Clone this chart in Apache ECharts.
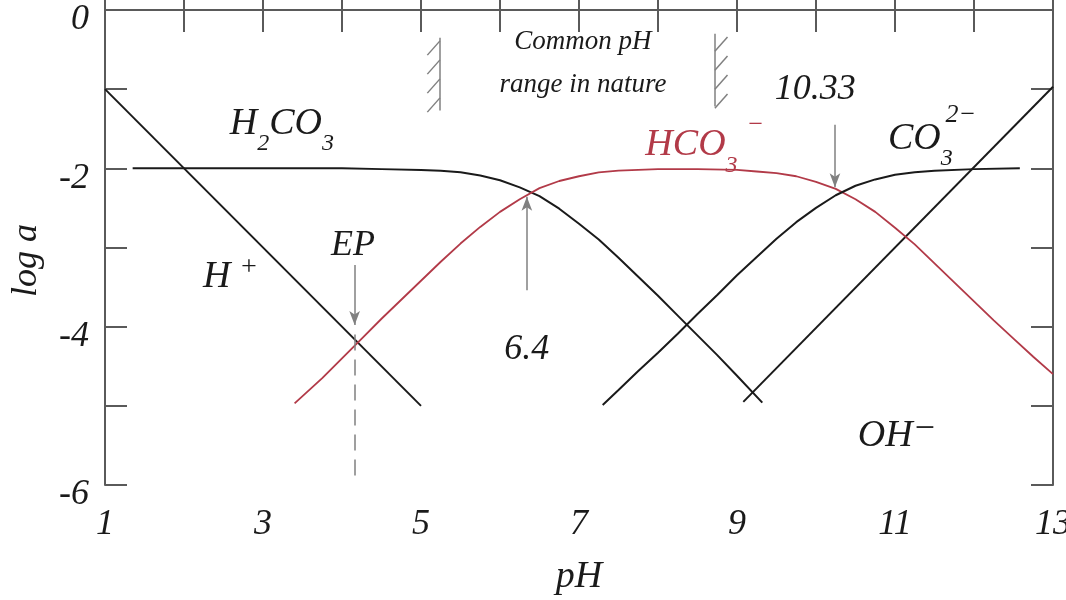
<!DOCTYPE html>
<html><head><meta charset="utf-8">
<script src="https://cdn.jsdelivr.net/npm/echarts@6/dist/echarts.min.js"></script>
<style>html,body{margin:0;padding:0;background:#fff}#c{width:1066px;height:600px}</style>
</head><body><div id="c"></div>
<script>
// ---- data ----
const xTickLabels = [1, 3, 5, 7, 9, 11, 13];
const yTickLabels = [0, -2, -4, -6];
const hPlus = [[1, -1], [5, -5]];
const ohMinus = [[9.08, -4.95], [13, -0.97]];
const h2co3 = [[1.35, -2.0], [2, -2.0], [3, -2.0], [3.5, -2.0], [4, -2.0], [4.5, -2.01], [5, -2.02], [5.25, -2.03], [5.5, -2.05], [5.75, -2.09], [6, -2.15], [6.25, -2.24], [6.5, -2.35], [6.75, -2.51], [7, -2.7], [7.25, -2.9], [7.5, -3.13], [7.75, -3.37], [8, -3.61], [8.25, -3.86], [8.5, -4.11], [8.75, -4.36], [9, -4.62], [9.32, -4.96]];
const hco3 = [[3.4, -4.97], [3.75, -4.65], [4, -4.4], [4.25, -4.15], [4.5, -3.9], [4.75, -3.66], [5, -3.42], [5.25, -3.18], [5.5, -2.95], [5.75, -2.74], [6, -2.55], [6.25, -2.39], [6.5, -2.25], [6.75, -2.16], [7, -2.1], [7.25, -2.05], [7.5, -2.03], [7.75, -2.02], [8, -2.01], [8.5, -2.01], [9, -2.02], [9.25, -2.04], [9.5, -2.06], [9.75, -2.1], [10, -2.17], [10.25, -2.26], [10.5, -2.39], [10.75, -2.55], [11, -2.75], [11.25, -2.96], [11.5, -3.2], [11.75, -3.44], [12, -3.68], [12.25, -3.92], [12.5, -4.15], [12.75, -4.38], [13, -4.6]];
const co3 = [[7.3, -4.99], [7.5, -4.8], [7.75, -4.56], [8, -4.33], [8.25, -4.09], [8.5, -3.84], [8.75, -3.6], [9, -3.35], [9.25, -3.12], [9.5, -2.89], [9.75, -2.68], [10, -2.5], [10.25, -2.34], [10.5, -2.22], [10.75, -2.14], [11, -2.08], [11.25, -2.05], [11.5, -2.03], [12, -2.01], [12.58, -2.0]];
const epPH = 4.16;
const pK1Mark = 6.34;
const pK2Mark = 10.24;
const naturalRange = [5.24, 8.72];

const F = "'Liberation Serif', 'DejaVu Serif', serif";
const INK = '#1a1a1a';
const AX = '#5a5a5a';
const RED = '#b23a48';
const GRAY = '#808080';

function axisCommon(extra) {
  return Object.assign({
    axisLine: { show: true, lineStyle: { color: AX, width: 2 } },
    axisTick: { show: true, inside: true, length: 22, lineStyle: { color: AX, width: 2 } },
    splitLine: { show: false }
  }, extra);
}

// hatch strokes for the "common pH range" markers
const hatchLines = [];
[[naturalRange[0], -0.35, -1.27, -1], [naturalRange[1], -0.3, -1.22, 1]].forEach(([x, yTop, yBot, side]) => {
  hatchLines.push([{ coord: [x, yTop] }, { coord: [x, yBot] }]);
  for (let k = 0; k < 4; k++) {
    const yA = yTop - 0.04 - k * 0.24;
    if (side < 0) hatchLines.push([{ coord: [x - 0.16, yA - 0.18] }, { coord: [x, yA] }]);
    else hatchLines.push([{ coord: [x, yA - 0.18] }, { coord: [x + 0.16, yA] }]);
  }
});

const chart = echarts.init(document.getElementById('c'), null, { renderer: 'canvas' });
const curve = { type: 'line', symbol: 'none', smooth: false, silent: true };
const option = {
  animation: false,
  backgroundColor: '#fff',
  grid: { left: 105, right: 13, top: 10, bottom: 115, containLabel: false, outerBoundsMode: 'none' },
  xAxis: [
    axisCommon({
      type: 'value', min: 1, max: 13, interval: 1, position: 'bottom',
      axisLabel: { show: true, margin: 22, color: INK, fontSize: 36, fontStyle: 'italic', fontFamily: F,
        formatter: v => xTickLabels.indexOf(v) >= 0 ? String(v) : '' },
      name: 'pH', nameLocation: 'middle', nameGap: 73,
      nameTextStyle: { color: INK, fontSize: 38, fontStyle: 'italic', fontFamily: F }
    }),
    axisCommon({ type: 'value', min: 1, max: 13, interval: 1, position: 'top', axisLabel: { show: false } })
  ],
  yAxis: [
    axisCommon({
      type: 'value', min: -6, max: 0, interval: 1, position: 'left',
      axisLabel: { show: true, margin: 16, color: INK, fontSize: 36, fontStyle: 'italic', fontFamily: F,
        verticalAlign: 'top', lineHeight: 20,
        formatter: v => yTickLabels.indexOf(v) >= 0 ? String(v) : '' },
      name: 'log a', nameLocation: 'middle', nameGap: 60, nameRotate: 90,
      nameTextStyle: { color: INK, fontSize: 36, fontStyle: 'italic', fontFamily: F, padding: [0, 26, 0, 0] }
    }),
    axisCommon({ type: 'value', min: -6, max: 0, interval: 1, position: 'right', axisLabel: { show: false } })
  ],
  series: [
    { type: 'line', name: 'H+', data: hPlus, symbol: 'none', silent: true, lineStyle: { color: INK, width: 2 },
      markLine: {
        silent: true, symbol: ['none', 'arrow'], symbolSize: [8, 14], label: { show: false },
        lineStyle: { color: GRAY, width: 1.5, type: 'solid' },
        data: [
          [{ coord: [epPH, -3.22] }, { coord: [epPH, -3.98] }],
          [{ coord: [pK1Mark, -3.54] }, { coord: [pK1Mark, -2.36] }],
          [{ coord: [pK2Mark, -1.45] }, { coord: [pK2Mark, -2.24] }]
        ]
      } },
    { type: 'line', name: 'OH-', data: ohMinus, symbol: 'none', silent: true, lineStyle: { color: INK, width: 2 },
      markLine: {
        silent: true, symbol: ['none', 'none'], label: { show: false },
        lineStyle: { color: GRAY, width: 1.5, type: 'solid' },
        data: hatchLines.concat([[{ coord: [epPH, -4.1], lineStyle: { type: [16, 9] } }, { coord: [epPH, -5.9] }]])
      } },
    Object.assign({ name: 'H2CO3', data: h2co3, lineStyle: { color: INK, width: 2 } }, curve),
    Object.assign({ name: 'HCO3-', data: hco3, lineStyle: { color: RED, width: 1.8 } }, curve),
    Object.assign({ name: 'CO3 2-', data: co3, lineStyle: { color: INK, width: 2 } }, curve)
  ]
};
chart.setOption(option);

// ---- text annotations placed in data coordinates ----
const annotations = [
  { at: [2.58, -1.44], text: 'H{s|2}CO{s|3}', align: 'left', color: INK, size: 38 },
  { at: [2.24, -3.37], text: 'H', align: 'left', color: INK, size: 38 },
  { at: [2.82, -3.25], text: '+', align: 'center', color: INK, size: 28 },
  { at: [4.14, -2.98], text: 'EP', align: 'center', color: INK, size: 36 },
  { at: [6.34, -4.29], text: '6.4', align: 'center', color: INK, size: 36 },
  { at: [9.99, -1.01], text: '10.33', align: 'center', color: INK, size: 36 },
  { at: [10.91, -1.63], text: 'CO{s|3}', align: 'left', color: INK, size: 38 },
  { at: [11.64, -1.33], text: '2\u2212', align: 'left', color: INK, size: 26 },
  { at: [7.84, -1.71], text: 'HCO{s|3}', align: 'left', color: RED, size: 38 },
  { at: [9.12, -1.45], text: '\u2212', align: 'left', color: RED, size: 26 },
  { at: [10.53, -5.38], text: 'OH', align: 'left', color: INK, size: 38 },
  { at: [11.22, -5.30], text: '\u2212', align: 'left', color: INK, size: 36 },
  { at: [7.05, -0.40], text: 'Common pH', align: 'center', color: INK, size: 27 },
  { at: [7.05, -0.95], text: 'range in nature', align: 'center', color: INK, size: 27 }
];

function place() {
  const els = annotations.map(a => {
    const p = chart.convertToPixel({ gridIndex: 0 }, a.at);
    return {
      type: 'text', x: p[0], y: p[1], silent: true,
      style: {
        text: a.text, fill: a.color,
        fontSize: a.size, fontStyle: 'italic', fontFamily: F, lineHeight: 64,
        align: a.align, verticalAlign: 'middle', textAlign: a.align, textVerticalAlign: 'middle',
        rich: {
          s: { fontSize: 24, fontStyle: 'italic', fontFamily: F, lineHeight: 26, verticalAlign: 'bottom', fill: a.color }
        }
      }
    };
  });
  chart.setOption({ graphic: { elements: els } });
}
place();
</script></body></html>
